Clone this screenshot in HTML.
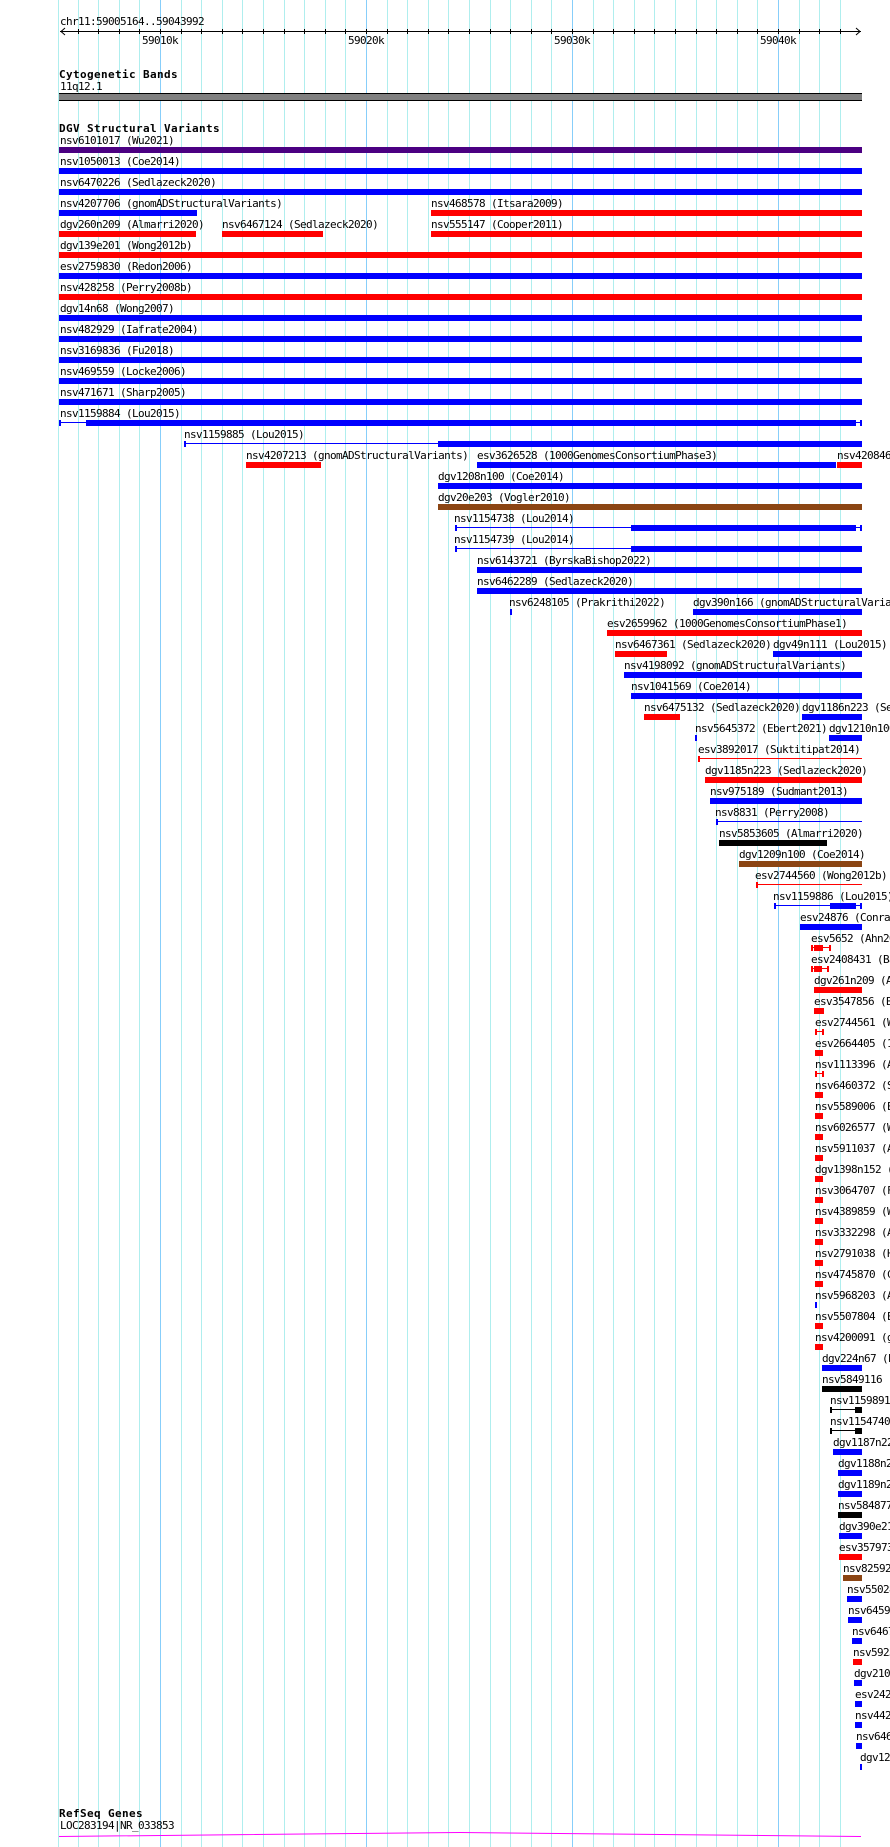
<!DOCTYPE html>
<html><head><meta charset="utf-8">
<style>
html,body{margin:0;padding:0;background:#fff;}
svg{display:block;}
.t{font-family:"DejaVu Sans Mono","Liberation Mono",monospace;font-size:11px;letter-spacing:-0.62px;fill:#000;}
.h{font-family:"DejaVu Sans Mono","Liberation Mono",monospace;font-size:11px;font-weight:bold;letter-spacing:0.38px;fill:#000;}
.b{fill:#0000ff}.r{fill:#ff0000}.k{fill:#000}.p{fill:#4b0082}.n{fill:#8b4513}
.g{fill:#afeeee}.G{fill:#87cefa}
rect{shape-rendering:crispEdges}
</style></head><body>
<svg width="890" height="1847" viewBox="0 0 890 1847" xmlns="http://www.w3.org/2000/svg">
<rect x="0" y="0" width="890" height="1847" fill="#fff"/>
<!-- grid -->
<g>
<rect class="g" x="58" y="0" width="1" height="1847"/>
<rect class="g" x="78" y="0" width="1" height="1847"/>
<rect class="g" x="98" y="0" width="1" height="1847"/>
<rect class="g" x="119" y="0" width="1" height="1847"/>
<rect class="g" x="139" y="0" width="1" height="1847"/>
<rect class="G" x="160" y="0" width="1" height="1847"/>
<rect class="g" x="181" y="0" width="1" height="1847"/>
<rect class="g" x="201" y="0" width="1" height="1847"/>
<rect class="g" x="222" y="0" width="1" height="1847"/>
<rect class="g" x="242" y="0" width="1" height="1847"/>
<rect class="g" x="263" y="0" width="1" height="1847"/>
<rect class="g" x="284" y="0" width="1" height="1847"/>
<rect class="g" x="304" y="0" width="1" height="1847"/>
<rect class="g" x="325" y="0" width="1" height="1847"/>
<rect class="g" x="345" y="0" width="1" height="1847"/>
<rect class="G" x="366" y="0" width="1" height="1847"/>
<rect class="g" x="387" y="0" width="1" height="1847"/>
<rect class="g" x="407" y="0" width="1" height="1847"/>
<rect class="g" x="428" y="0" width="1" height="1847"/>
<rect class="g" x="448" y="0" width="1" height="1847"/>
<rect class="g" x="469" y="0" width="1" height="1847"/>
<rect class="g" x="490" y="0" width="1" height="1847"/>
<rect class="g" x="510" y="0" width="1" height="1847"/>
<rect class="g" x="531" y="0" width="1" height="1847"/>
<rect class="g" x="551" y="0" width="1" height="1847"/>
<rect class="G" x="572" y="0" width="1" height="1847"/>
<rect class="g" x="593" y="0" width="1" height="1847"/>
<rect class="g" x="613" y="0" width="1" height="1847"/>
<rect class="g" x="634" y="0" width="1" height="1847"/>
<rect class="g" x="654" y="0" width="1" height="1847"/>
<rect class="g" x="675" y="0" width="1" height="1847"/>
<rect class="g" x="696" y="0" width="1" height="1847"/>
<rect class="g" x="716" y="0" width="1" height="1847"/>
<rect class="g" x="737" y="0" width="1" height="1847"/>
<rect class="g" x="757" y="0" width="1" height="1847"/>
<rect class="G" x="778" y="0" width="1" height="1847"/>
<rect class="g" x="799" y="0" width="1" height="1847"/>
<rect class="g" x="819" y="0" width="1" height="1847"/>
<rect class="g" x="840" y="0" width="1" height="1847"/>
</g>
<!-- ruler -->
<text class="t" x="60" y="25">chr11:59005164..59043992</text>
<rect class="k" x="60" y="31" width="801" height="1"/>
<polyline points="65,28 61,31.5 65,35" fill="none" stroke="#000" stroke-width="1"/>
<polyline points="856,28 860,31.5 856,35" fill="none" stroke="#000" stroke-width="1"/>
<g class="k">
<rect x="78" y="29" width="1" height="5"/><rect x="98" y="29" width="1" height="5"/><rect x="119" y="29" width="1" height="5"/><rect x="139" y="29" width="1" height="5"/><rect x="160" y="29" width="1" height="5"/><rect x="181" y="29" width="1" height="5"/><rect x="201" y="29" width="1" height="5"/><rect x="222" y="29" width="1" height="5"/><rect x="242" y="29" width="1" height="5"/><rect x="263" y="29" width="1" height="5"/><rect x="284" y="29" width="1" height="5"/><rect x="304" y="29" width="1" height="5"/><rect x="325" y="29" width="1" height="5"/><rect x="345" y="29" width="1" height="5"/><rect x="366" y="29" width="1" height="5"/><rect x="387" y="29" width="1" height="5"/><rect x="407" y="29" width="1" height="5"/><rect x="428" y="29" width="1" height="5"/><rect x="448" y="29" width="1" height="5"/><rect x="469" y="29" width="1" height="5"/><rect x="490" y="29" width="1" height="5"/><rect x="510" y="29" width="1" height="5"/><rect x="531" y="29" width="1" height="5"/><rect x="551" y="29" width="1" height="5"/><rect x="572" y="29" width="1" height="5"/><rect x="593" y="29" width="1" height="5"/><rect x="613" y="29" width="1" height="5"/><rect x="634" y="29" width="1" height="5"/><rect x="654" y="29" width="1" height="5"/><rect x="675" y="29" width="1" height="5"/><rect x="696" y="29" width="1" height="5"/><rect x="716" y="29" width="1" height="5"/><rect x="737" y="29" width="1" height="5"/><rect x="757" y="29" width="1" height="5"/><rect x="778" y="29" width="1" height="5"/><rect x="799" y="29" width="1" height="5"/><rect x="819" y="29" width="1" height="5"/><rect x="840" y="29" width="1" height="5"/>
</g>
<text class="t" x="160" y="44" text-anchor="middle">59010k</text>
<text class="t" x="366" y="44" text-anchor="middle">59020k</text>
<text class="t" x="572" y="44" text-anchor="middle">59030k</text>
<text class="t" x="778" y="44" text-anchor="middle">59040k</text>
<!-- cytogenetic -->
<text class="h" x="59" y="78">Cytogenetic Bands</text>
<text class="t" x="60" y="90">11q12.1</text>
<rect class="k" x="59" y="93" width="803" height="8"/>
<rect fill="#808080" x="59" y="94" width="803" height="6"/>
<!-- DGV -->
<text class="h" x="59" y="132">DGV Structural Variants</text>

<g transform="translate(0,147)"><text class="t" x="60" y="-3">nsv6101017 (Wu2021)</text><rect class="p" x="59" y="0" width="803" height="6"/></g>
<g transform="translate(0,168)"><text class="t" x="60" y="-3">nsv1050013 (Coe2014)</text><rect class="b" x="59" y="0" width="803" height="6"/></g>
<g transform="translate(0,189)"><text class="t" x="60" y="-3">nsv6470226 (Sedlazeck2020)</text><rect class="b" x="59" y="0" width="803" height="6"/></g>
<g transform="translate(0,210)"><text class="t" x="60" y="-3">nsv4207706 (gnomADStructuralVariants)</text><rect class="b" x="59" y="0" width="138" height="6"/><text class="t" x="431" y="-3">nsv468578 (Itsara2009)</text><rect class="r" x="431" y="0" width="431" height="6"/></g>
<g transform="translate(0,231)"><text class="t" x="60" y="-3">dgv260n209 (Almarri2020)</text><rect class="r" x="59" y="0" width="137" height="6"/><text class="t" x="222" y="-3">nsv6467124 (Sedlazeck2020)</text><rect class="r" x="222" y="0" width="101" height="6"/><text class="t" x="431" y="-3">nsv555147 (Cooper2011)</text><rect class="r" x="431" y="0" width="431" height="6"/></g>
<g transform="translate(0,252)"><text class="t" x="60" y="-3">dgv139e201 (Wong2012b)</text><rect class="r" x="59" y="0" width="803" height="6"/></g>
<g transform="translate(0,273)"><text class="t" x="60" y="-3">esv2759830 (Redon2006)</text><rect class="b" x="59" y="0" width="803" height="6"/></g>
<g transform="translate(0,294)"><text class="t" x="60" y="-3">nsv428258 (Perry2008b)</text><rect class="r" x="59" y="0" width="803" height="6"/></g>
<g transform="translate(0,315)"><text class="t" x="60" y="-3">dgv14n68 (Wong2007)</text><rect class="b" x="59" y="0" width="803" height="6"/></g>
<g transform="translate(0,336)"><text class="t" x="60" y="-3">nsv482929 (Iafrate2004)</text><rect class="b" x="59" y="0" width="803" height="6"/></g>
<g transform="translate(0,357)"><text class="t" x="60" y="-3">nsv3169836 (Fu2018)</text><rect class="b" x="59" y="0" width="803" height="6"/></g>
<g transform="translate(0,378)"><text class="t" x="60" y="-3">nsv469559 (Locke2006)</text><rect class="b" x="59" y="0" width="803" height="6"/></g>
<g transform="translate(0,399)"><text class="t" x="60" y="-3">nsv471671 (Sharp2005)</text><rect class="b" x="59" y="0" width="803" height="6"/></g>
<g transform="translate(0,420)"><text class="t" x="60" y="-3">nsv1159884 (Lou2015)</text><rect class="b" x="59" y="0" width="2" height="6"/><rect class="b" x="59" y="2" width="27" height="1"/><rect class="b" x="86" y="0" width="770" height="6"/><rect class="b" x="856" y="2" width="5" height="1"/><rect class="b" x="860" y="0" width="2" height="6"/></g>
<g transform="translate(0,441)"><text class="t" x="184" y="-3">nsv1159885 (Lou2015)</text><rect class="b" x="184" y="0" width="2" height="6"/><rect class="b" x="184" y="2" width="254" height="1"/><rect class="b" x="438" y="0" width="424" height="6"/></g>
<g transform="translate(0,462)"><text class="t" x="246" y="-3">nsv4207213 (gnomADStructuralVariants)</text><rect class="r" x="246" y="0" width="75" height="6"/><text class="t" x="477" y="-3">esv3626528 (1000GenomesConsortiumPhase3)</text><rect class="b" x="477" y="0" width="359" height="6"/><text class="t" x="837" y="-3">nsv4208467 (gnomADStructuralVariants)</text><rect class="r" x="837" y="0" width="25" height="6"/></g>
<g transform="translate(0,483)"><text class="t" x="438" y="-3">dgv1208n100 (Coe2014)</text><rect class="b" x="438" y="0" width="424" height="6"/></g>
<g transform="translate(0,504)"><text class="t" x="438" y="-3">dgv20e203 (Vogler2010)</text><rect class="n" x="438" y="0" width="424" height="6"/></g>
<g transform="translate(0,525)"><text class="t" x="454" y="-3">nsv1154738 (Lou2014)</text><rect class="b" x="455" y="0" width="2" height="6"/><rect class="b" x="455" y="2" width="176" height="1"/><rect class="b" x="631" y="0" width="225" height="6"/><rect class="b" x="856" y="2" width="5" height="1"/><rect class="b" x="860" y="0" width="2" height="6"/></g>
<g transform="translate(0,546)"><text class="t" x="454" y="-3">nsv1154739 (Lou2014)</text><rect class="b" x="455" y="0" width="2" height="6"/><rect class="b" x="455" y="2" width="176" height="1"/><rect class="b" x="631" y="0" width="231" height="6"/></g>
<g transform="translate(0,567)"><text class="t" x="477" y="-3">nsv6143721 (ByrskaBishop2022)</text><rect class="b" x="477" y="0" width="385" height="6"/></g>
<g transform="translate(0,588)"><text class="t" x="477" y="-3">nsv6462289 (Sedlazeck2020)</text><rect class="b" x="477" y="0" width="385" height="6"/></g>
<g transform="translate(0,609)"><text class="t" x="509" y="-3">nsv6248105 (Prakrithi2022)</text><rect class="b" x="510" y="0" width="2" height="6"/><text class="t" x="693" y="-3">dgv390n166 (gnomADStructuralVariants)</text><rect class="b" x="693" y="0" width="169" height="6"/></g>
<g transform="translate(0,630)"><text class="t" x="607" y="-3">esv2659962 (1000GenomesConsortiumPhase1)</text><rect class="r" x="607" y="0" width="255" height="6"/></g>
<g transform="translate(0,651)"><text class="t" x="615" y="-3">nsv6467361 (Sedlazeck2020)</text><rect class="r" x="615" y="0" width="52" height="6"/><text class="t" x="773" y="-3">dgv49n111 (Lou2015)</text><rect class="b" x="773" y="0" width="89" height="6"/></g>
<g transform="translate(0,672)"><text class="t" x="624" y="-3">nsv4198092 (gnomADStructuralVariants)</text><rect class="b" x="624" y="0" width="238" height="6"/></g>
<g transform="translate(0,693)"><text class="t" x="631" y="-3">nsv1041569 (Coe2014)</text><rect class="b" x="631" y="0" width="231" height="6"/></g>
<g transform="translate(0,714)"><text class="t" x="644" y="-3">nsv6475132 (Sedlazeck2020)</text><rect class="r" x="644" y="0" width="36" height="6"/><text class="t" x="802" y="-3">dgv1186n223 (Sedlazeck2020)</text><rect class="b" x="802" y="0" width="60" height="6"/></g>
<g transform="translate(0,735)"><text class="t" x="695" y="-3">nsv5645372 (Ebert2021)</text><rect class="b" x="695" y="0" width="2" height="6"/><text class="t" x="829" y="-3">dgv1210n100 (Coe2014)</text><rect class="b" x="829" y="0" width="33" height="6"/></g>
<g transform="translate(0,756)"><text class="t" x="698" y="-3">esv3892017 (Suktitipat2014)</text><rect class="r" x="698" y="0" width="2" height="6"/><rect class="r" x="698" y="2" width="164" height="1"/></g>
<g transform="translate(0,777)"><text class="t" x="705" y="-3">dgv1185n223 (Sedlazeck2020)</text><rect class="r" x="705" y="0" width="157" height="6"/></g>
<g transform="translate(0,798)"><text class="t" x="710" y="-3">nsv975189 (Sudmant2013)</text><rect class="b" x="710" y="0" width="152" height="6"/></g>
<g transform="translate(0,819)"><text class="t" x="715" y="-3">nsv8831 (Perry2008)</text><rect class="b" x="716" y="0" width="2" height="6"/><rect class="b" x="716" y="2" width="146" height="1"/></g>
<g transform="translate(0,840)"><text class="t" x="719" y="-3">nsv5853605 (Almarri2020)</text><rect class="k" x="719" y="0" width="108" height="6"/></g>
<g transform="translate(0,861)"><text class="t" x="739" y="-3">dgv1209n100 (Coe2014)</text><rect class="n" x="739" y="0" width="123" height="6"/></g>
<g transform="translate(0,882)"><text class="t" x="755" y="-3">esv2744560 (Wong2012b)</text><rect class="r" x="756" y="0" width="2" height="6"/><rect class="r" x="756" y="2" width="106" height="1"/></g>
<g transform="translate(0,903)"><text class="t" x="773" y="-3">nsv1159886 (Lou2015)</text><rect class="b" x="774" y="0" width="2" height="6"/><rect class="b" x="774" y="2" width="56" height="1"/><rect class="b" x="830" y="0" width="26" height="6"/><rect class="b" x="856" y="2" width="5" height="1"/><rect class="b" x="860" y="0" width="2" height="6"/></g>
<g transform="translate(0,924)"><text class="t" x="800" y="-3">esv24876 (Conrad2009)</text><rect class="b" x="800" y="0" width="62" height="6"/></g>
<g transform="translate(0,945)"><text class="t" x="811" y="-3">esv5652 (Ahn2009)</text><rect class="r" x="811" y="0" width="2" height="6"/><rect class="r" x="811" y="2" width="19" height="1"/><rect class="r" x="814" y="0" width="9" height="6"/><rect class="r" x="829" y="0" width="2" height="6"/></g>
<g transform="translate(0,966)"><text class="t" x="811" y="-3">esv2408431 (Banerjee2011)</text><rect class="r" x="811" y="0" width="2" height="6"/><rect class="r" x="811" y="2" width="17" height="1"/><rect class="r" x="814" y="0" width="8" height="6"/><rect class="r" x="827" y="0" width="2" height="6"/></g>
<g transform="translate(0,987)"><text class="t" x="814" y="-3">dgv261n209 (Almarri2020)</text><rect class="r" x="814" y="0" width="48" height="6"/></g>
<g transform="translate(0,1008)"><text class="t" x="814" y="-3">esv3547856 (Beyter2021)</text><rect class="r" x="814" y="0" width="10" height="6"/></g>
<g transform="translate(0,1029)"><text class="t" x="815" y="-3">esv2744561 (Wong2012b)</text><rect class="r" x="815" y="0" width="2" height="6"/><rect class="r" x="815" y="2" width="8" height="1"/><rect class="r" x="822" y="0" width="2" height="6"/></g>
<g transform="translate(0,1050)"><text class="t" x="815" y="-3">esv2664405 (1000GenomesConsortiumPhase1)</text><rect class="r" x="815" y="0" width="8" height="6"/></g>
<g transform="translate(0,1071)"><text class="t" x="815" y="-3">nsv1113396 (Alsmadi2014)</text><rect class="r" x="815" y="0" width="2" height="6"/><rect class="r" x="815" y="2" width="8" height="1"/><rect class="r" x="822" y="0" width="2" height="6"/></g>
<g transform="translate(0,1092)"><text class="t" x="815" y="-3">nsv6460372 (Sedlazeck2020)</text><rect class="r" x="815" y="0" width="8" height="6"/></g>
<g transform="translate(0,1113)"><text class="t" x="815" y="-3">nsv5589006 (Ebert2021)</text><rect class="r" x="815" y="0" width="8" height="6"/></g>
<g transform="translate(0,1134)"><text class="t" x="815" y="-3">nsv6026577 (Wu2021)</text><rect class="r" x="815" y="0" width="8" height="6"/></g>
<g transform="translate(0,1155)"><text class="t" x="815" y="-3">nsv5911037 (Almarri2020)</text><rect class="r" x="815" y="0" width="8" height="6"/></g>
<g transform="translate(0,1176)"><text class="t" x="815" y="-3">dgv1398n152 (Chaisson2019)</text><rect class="r" x="815" y="0" width="8" height="6"/></g>
<g transform="translate(0,1197)"><text class="t" x="815" y="-3">nsv3064707 (Fu2018)</text><rect class="r" x="815" y="0" width="8" height="6"/></g>
<g transform="translate(0,1218)"><text class="t" x="815" y="-3">nsv4389859 (Wong2012b)</text><rect class="r" x="815" y="0" width="8" height="6"/></g>
<g transform="translate(0,1239)"><text class="t" x="815" y="-3">nsv3332298 (Audano2019)</text><rect class="r" x="815" y="0" width="8" height="6"/></g>
<g transform="translate(0,1260)"><text class="t" x="815" y="-3">nsv2791038 (Hehir2017)</text><rect class="r" x="815" y="0" width="8" height="6"/></g>
<g transform="translate(0,1281)"><text class="t" x="815" y="-3">nsv4745870 (Chaisson2019)</text><rect class="r" x="815" y="0" width="8" height="6"/></g>
<g transform="translate(0,1302)"><text class="t" x="815" y="-3">nsv5968203 (Almarri2020)</text><rect class="b" x="815" y="0" width="2" height="6"/></g>
<g transform="translate(0,1323)"><text class="t" x="815" y="-3">nsv5507804 (Ebert2021)</text><rect class="r" x="815" y="0" width="8" height="6"/></g>
<g transform="translate(0,1344)"><text class="t" x="815" y="-3">nsv4200091 (gnomADStructuralVariants)</text><rect class="r" x="815" y="0" width="8" height="6"/></g>
<g transform="translate(0,1365)"><text class="t" x="822" y="-3">dgv224n67 (Pang2010)</text><rect class="b" x="822" y="0" width="40" height="6"/></g>
<g transform="translate(0,1386)"><text class="t" x="822" y="-3">nsv5849116 (Almarri2020)</text><rect class="k" x="822" y="0" width="40" height="6"/></g>
<g transform="translate(0,1407)"><text class="t" x="830" y="-3">nsv1159891 (Lou2015)</text><rect class="k" x="830" y="0" width="2" height="6"/><rect class="k" x="830" y="2" width="25" height="1"/><rect class="k" x="855" y="0" width="7" height="6"/></g>
<g transform="translate(0,1428)"><text class="t" x="830" y="-3">nsv1154740 (Lou2014)</text><rect class="k" x="830" y="0" width="2" height="6"/><rect class="k" x="830" y="2" width="25" height="1"/><rect class="k" x="855" y="0" width="7" height="6"/></g>
<g transform="translate(0,1449)"><text class="t" x="833" y="-3">dgv1187n223 (Sedlazeck2020)</text><rect class="b" x="833" y="0" width="29" height="6"/></g>
<g transform="translate(0,1470)"><text class="t" x="838" y="-3">dgv1188n223 (Sedlazeck2020)</text><rect class="b" x="838" y="0" width="24" height="6"/></g>
<g transform="translate(0,1491)"><text class="t" x="838" y="-3">dgv1189n223 (Sedlazeck2020)</text><rect class="b" x="838" y="0" width="24" height="6"/></g>
<g transform="translate(0,1512)"><text class="t" x="838" y="-3">nsv5848779 (Almarri2020)</text><rect class="k" x="838" y="0" width="24" height="6"/></g>
<g transform="translate(0,1533)"><text class="t" x="839" y="-3">dgv390e214 (Beyter2021)</text><rect class="b" x="839" y="0" width="23" height="6"/></g>
<g transform="translate(0,1554)"><text class="t" x="839" y="-3">esv3579738 (Hehir2017)</text><rect class="r" x="839" y="0" width="23" height="6"/></g>
<g transform="translate(0,1575)"><text class="t" x="843" y="-3">nsv825925 (Vogler2010)</text><rect class="n" x="843" y="0" width="19" height="6"/></g>
<g transform="translate(0,1596)"><text class="t" x="847" y="-3">nsv5502801 (Ebert2021)</text><rect class="b" x="847" y="0" width="15" height="6"/></g>
<g transform="translate(0,1617)"><text class="t" x="848" y="-3">nsv6459012 (Sedlazeck2020)</text><rect class="b" x="848" y="0" width="14" height="6"/></g>
<g transform="translate(0,1638)"><text class="t" x="852" y="-3">nsv6467390 (Sedlazeck2020)</text><rect class="b" x="852" y="0" width="10" height="6"/></g>
<g transform="translate(0,1659)"><text class="t" x="853" y="-3">nsv5923410 (Almarri2020)</text><rect class="r" x="853" y="0" width="9" height="6"/></g>
<g transform="translate(0,1680)"><text class="t" x="854" y="-3">dgv2101n100 (Coe2014)</text><rect class="b" x="854" y="0" width="8" height="6"/></g>
<g transform="translate(0,1701)"><text class="t" x="855" y="-3">esv2421902 (Conrad2009)</text><rect class="b" x="855" y="0" width="7" height="6"/></g>
<g transform="translate(0,1722)"><text class="t" x="855" y="-3">nsv4420011 (Chaisson2019)</text><rect class="b" x="855" y="0" width="7" height="6"/></g>
<g transform="translate(0,1743)"><text class="t" x="856" y="-3">nsv6461205 (Sedlazeck2020)</text><rect class="b" x="856" y="0" width="6" height="6"/></g>
<g transform="translate(0,1764)"><text class="t" x="860" y="-3">dgv1211n100 (Coe2014)</text><rect class="b" x="860" y="0" width="2" height="6"/></g>

<!-- RefSeq -->
<text class="h" x="59" y="1817">RefSeq Genes</text>
<text class="t" x="60" y="1829">LOC283194|NR_033853</text>
<polyline points="59,1836.5 460,1832.5 861,1836.5" fill="none" stroke="#ff00ff" stroke-width="1"/>
</svg>
</body></html>
